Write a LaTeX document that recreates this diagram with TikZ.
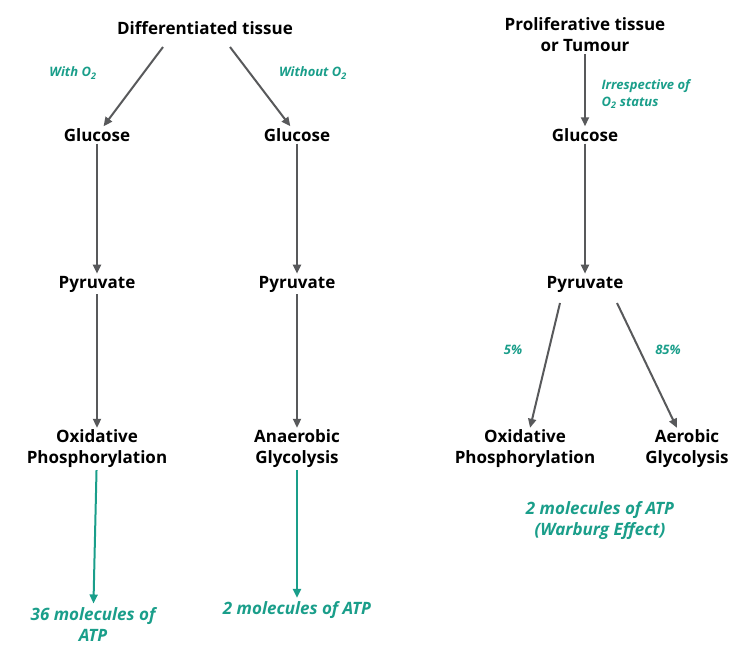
\documentclass[tikz,border=0pt]{standalone}
\usepackage{fontspec}
\setmainfont{Open Sans}
\usetikzlibrary{arrows.meta}
\definecolor{tealgreen}{HTML}{1A9E8A}
\definecolor{arrowgray}{HTML}{58595B}
\begin{document}
\begin{tikzpicture}[%
        x=1pt,y=-1pt,
        stage/.style={%
            font=\fontsize{17}{21}\selectfont\bfseries,%
            align=center,%
            inner sep=2pt%
        },%
        result/.style={%
            font=\fontsize{17}{21}\selectfont\bfseries\itshape,%
            text=tealgreen,%
            align=center%
        },%
        cond/.style={%
            font=\fontsize{13}{17}\selectfont\bfseries\itshape,%
            text=tealgreen%
        },%
        flow/.style={%
            -{Triangle[length=9pt,width=8pt]},%
            line width=2pt,%
            draw=arrowgray%
        },%
        gain/.style={%
            flow,%
            draw=tealgreen%
        }%
    ]
    \useasboundingbox (0,0) rectangle (735,660);
    % left: differentiated tissue
    \node (diff) at (205,28) [stage]{Differentiated tissue};
    \node (glcA) at ( 97,135) [stage]{Glucose};
    \node (glcB) at (297,135) [stage]{Glucose};
    \node (pyrA) at ( 97,284) [stage]{Pyruvate};
    \node (pyrB) at (297,284) [stage]{Pyruvate};
    \node (oxA)  at ( 97,449) [stage]{Oxidative\\Phosphorylation};
    \node (anB)  at (297,449) [stage]{Anaerobic\\Glycolysis};
    \node (atpA) at ( 93,624) [result]{36 molecules of\\ATP};
    \node (atpB) at (297,610) [result]{2 molecules of ATP};
    \node at ( 73,73) [cond]{With O\textsubscript{2}};
    \node at (313,73) [cond]{Without O\textsubscript{2}};
    \coordinate (outA) at (163,47);
    \coordinate (outB) at (230,47);
    \draw [flow] (outA) -- (glcA);
    \draw [flow] (outB) -- (glcB);
    \draw [flow] (glcA) -- (pyrA);
    \draw [flow] (glcB) -- (pyrB);
    \draw [flow] (pyrA) -- (oxA);
    \draw [flow] (pyrB) -- (anB);
    \draw [gain] (oxA) -- (atpA);
    \draw [gain] (anB) -- (atpB);
    % right: proliferative tissue
    \node (prol) at (585,35) [stage]{Proliferative tissue\\or Tumour};
    \node (glcC) at (585,135) [stage]{Glucose};
    \node (pyrC) at (585,284) [stage]{Pyruvate};
    \node (oxC)  at (525,449) [stage]{Oxidative\\Phosphorylation};
    \node (aeC)  at (687,449) [stage]{Aerobic\\Glycolysis};
    \node (atpC) at (600,521) [result]{2 molecules of ATP\\(Warburg Effect)};
    \node at (598,94) [cond,anchor=west,align=left]{Irrespective of\\O\textsubscript{2} status};
    \node at (513,350) [cond]{5\%};
    \node at (668,350) [cond]{85\%};
    \coordinate (splitL) at (560,303);
    \coordinate (splitR) at (617,303);
    \draw [flow] (prol) -- (glcC);
    \draw [flow] (glcC) -- (pyrC);
    \draw [flow] (splitL) -- (oxC);
    \draw [flow] (splitR) -- (aeC);
\end{tikzpicture}
\end{document}
